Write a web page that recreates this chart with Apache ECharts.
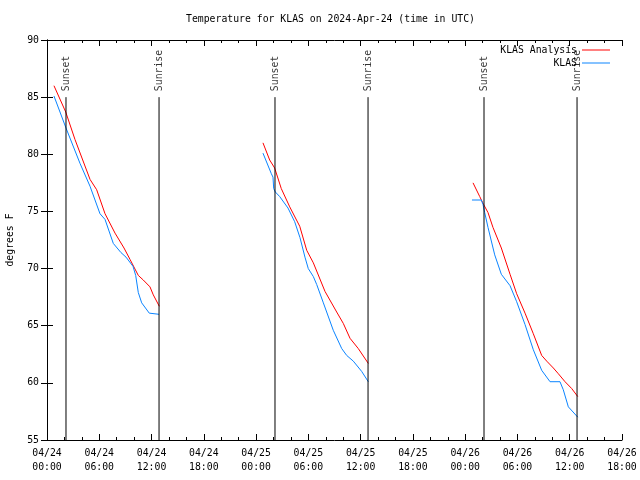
<!DOCTYPE html>
<html>
<head>
<meta charset="utf-8">
<script src="https://cdn.jsdelivr.net/npm/echarts@6/dist/echarts.min.js"></script>
<style>html,body{margin:0;padding:0;background:#fff}#c{width:640px;height:480px}</style>
</head>
<body>
<div id="c"></div>
<script>
// Time in hours since 04/24 00:00 UTC, temperature in degrees F
const xTickLabels = ['04/24\n00:00','04/24\n06:00','04/24\n12:00','04/24\n18:00','04/25\n00:00','04/25\n06:00','04/25\n12:00','04/25\n18:00','04/26\n00:00','04/26\n06:00','04/26\n12:00','04/26\n18:00'];
const yTicks = [55, 60, 65, 70, 75, 80, 85, 90];

const analysis1 = [[0.80,86.0],[2.15,83.7],[3.21,81.3],[4.94,77.8],[5.70,76.9],[6.66,74.8],[7.81,73.1],[8.84,71.8],[9.53,70.8],[10.48,69.4],[11.05,69.0],[11.82,68.4],[12.20,67.7],[12.89,66.7]];
const analysis2 = [[24.79,81.0],[25.56,79.5],[26.13,78.8],[26.89,77.0],[27.86,75.4],[29.01,73.7],[29.81,71.6],[30.57,70.5],[31.91,68.0],[33.25,66.2],[34.01,65.2],[34.78,63.9],[35.73,63.0],[36.88,61.7]];
const analysis3 = [[48.90,77.5],[49.67,76.3],[50.05,75.7],[50.62,74.9],[51.19,73.6],[52.15,71.8],[53.15,69.5],[53.91,67.8],[54.87,66.1],[55.82,64.3],[56.78,62.4],[57.36,61.9],[58.12,61.3],[58.69,60.8],[59.46,60.1],[60.23,59.5],[60.92,58.8]];

const obs1 = [[0.80,85.1],[2.18,82.3],[3.79,79.2],[4.94,77.2],[6.08,74.8],[6.66,74.3],[7.61,72.2],[8.49,71.4],[9.07,71.0],[9.87,70.2],[10.18,69.4],[10.48,67.9],[10.87,67.0],[11.74,66.1],[12.86,66.0]];
const obs2 = [[24.79,80.1],[25.75,78.3],[25.94,78.0],[26.02,77.0],[26.21,76.7],[26.71,76.3],[27.66,75.3],[28.43,74.1],[29.04,72.7],[29.61,71.0],[29.99,70.0],[30.57,69.3],[30.96,68.6],[31.72,67.0],[32.86,64.6],[33.83,63.0],[34.40,62.4],[35.16,61.9],[36.12,61.0],[36.88,60.1]];
const obs3 = [[48.78,76.0],[49.85,76.0],[50.05,75.6],[50.24,74.9],[50.62,73.6],[51.39,71.2],[52.15,69.5],[53.15,68.5],[53.91,67.1],[54.87,65.1],[55.82,62.9],[56.78,61.1],[57.74,60.1],[58.88,60.1],[59.26,59.4],[59.84,57.9],[60.92,57.0]];

const sunsetTimes = [2.18, 26.17, 50.16];
const sunriseTimes = [12.86, 36.85, 60.84];
const sunLineTop = 85;

const FONT = 'DejaVu Sans Mono';
const FS = 9.8;
const RED = '#ff0000';
const BLUE = '#0a84ff';

const series = [];
[analysis1, analysis2, analysis3].forEach(d => series.push({
  name: 'KLAS Analysis', type: 'line', data: d, showSymbol: false, symbol: 'none',
  lineStyle: {color: RED, width: 1}, itemStyle: {color: RED}, silent: true, z: 3
}));
[obs1, obs2, obs3].forEach(d => series.push({
  name: 'KLAS', type: 'line', data: d, showSymbol: false, symbol: 'none',
  lineStyle: {color: BLUE, width: 1}, itemStyle: {color: BLUE}, silent: true, z: 4
}));
const sunEvents = [];
sunsetTimes.forEach(t => sunEvents.push([t, 'Sunset']));
sunriseTimes.forEach(t => sunEvents.push([t, 'Sunrise']));
sunEvents.forEach(([t, name]) => {
  series.push({
    type: 'line', data: [[t, 55], [t, sunLineTop]], symbol: 'none', silent: true, z: 5,
    lineStyle: {color: '#000', width: 1}
  });
});
series.push({
  type: 'scatter', symbolSize: 0, silent: true, z: 6,
  data: sunEvents.map(([t, name]) => ({value: [t, sunLineTop], name: name})),
  label: {
    show: true, formatter: p => p.name, position: 'top', distance: 6, rotate: 90,
    align: 'left', verticalAlign: 'middle', color: '#000', fontFamily: FONT, fontSize: FS
  }
});

const chart = echarts.init(document.getElementById('c'), null, {renderer: 'canvas'});
chart.setOption({
  animation: false,
  backgroundColor: '#fff',
  title: {
    text: 'Temperature for KLAS on 2024-Apr-24 (time in UTC)',
    left: 181, top: 9,
    textStyle: {fontFamily: FONT, fontSize: FS, fontWeight: 'normal', color: '#000'}
  },
  legend: {
    data: ['KLAS Analysis', 'KLAS'], orient: 'vertical', right: 25, top: 38.5,
    align: 'right', itemWidth: 28, itemHeight: 1, itemGap: 0, icon: 'rect',
    textStyle: {fontFamily: FONT, fontSize: FS, color: '#000', lineHeight: 13}
  },
  grid: {left: 47, right: 18, top: 40, bottom: 40, containLabel: false, outerBoundsMode: 'none'},
  xAxis: [{
    type: 'value', min: 0, max: 66, interval: 6, position: 'bottom',
    axisLine: {show: true, lineStyle: {color: '#000', width: 1}},
    axisTick: {show: true, inside: true, length: 6, lineStyle: {color: '#000'}},
    minorTick: {show: true, splitNumber: 3, length: 3, lineStyle: {color: '#000'}},
    splitLine: {show: false},
    axisLabel: {
      margin: 6, formatter: v => xTickLabels[Math.round(v / 6)],
      fontFamily: FONT, fontSize: FS, color: '#000', lineHeight: 14
    }
  }, {
    type: 'value', min: 0, max: 66, interval: 6, position: 'top',
    axisLine: {show: true, lineStyle: {color: '#000', width: 1}},
    axisTick: {show: true, inside: true, length: 6, lineStyle: {color: '#000'}},
    minorTick: {show: true, splitNumber: 3, length: 3, lineStyle: {color: '#000'}},
    splitLine: {show: false}, axisLabel: {show: false}
  }],
  yAxis: [{
    type: 'value', min: yTicks[0], max: yTicks[yTicks.length - 1], interval: 5,
    name: 'degrees F', nameLocation: 'middle', nameGap: 32,
    nameTextStyle: {fontFamily: FONT, fontSize: FS, color: '#000'},
    axisLine: {show: true, lineStyle: {color: '#000', width: 1}},
    axisTick: {show: true, inside: true, length: 6, lineStyle: {color: '#000'}},
    splitLine: {show: false},
    axisLabel: {margin: 8, fontFamily: FONT, fontSize: FS, color: '#000'}
  }, {
    type: 'value', min: yTicks[0], max: yTicks[yTicks.length - 1], interval: 5, position: 'right',
    axisLine: {show: true, lineStyle: {color: '#000', width: 1}},
    axisTick: {show: true, inside: true, length: 6, lineStyle: {color: '#000'}},
    splitLine: {show: false}, axisLabel: {show: false}
  }],
  series: series
});
</script>
</body>
</html>
